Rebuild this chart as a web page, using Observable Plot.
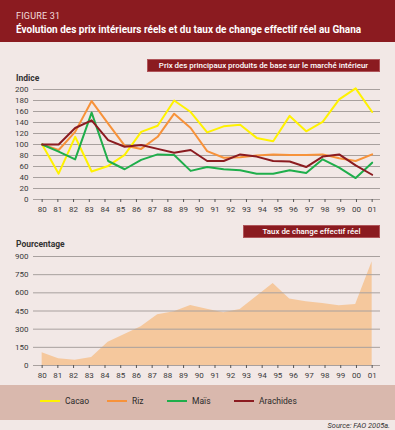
<!DOCTYPE html>
<html>
<head>
<meta charset="utf-8">
<script src="https://cdn.jsdelivr.net/npm/d3@7"></script>
<script src="https://cdn.jsdelivr.net/npm/@observablehq/plot@0.6"></script>
<style>
  html, body { margin: 0; padding: 0; }
  body { width: 395px; height: 430px; background: #F2E8E6; position: relative; overflow: hidden; font-family: Roboto, "Noto Sans", sans-serif; }
  .abs { position: absolute; }
  #header { left: 0; top: 0; width: 395px; height: 42px; background: #8B1B20; }
  #fig { left: 16px; top: 11px; color: #f3dede; font-size: 9px; letter-spacing: 0.2px; }
  #title { left: 16px; top: 24px; color: #fff; font-size: 10px; font-weight: 700; white-space: nowrap; }
  .box { background: #8B1B20; border: 1px solid #b0555a; color: #fff; font-size: 7.9px; font-weight: 500; text-align: center; line-height: 11px; box-sizing: border-box; white-space: nowrap; }
  .ylab { left: 16px; font-size: 8.5px; font-weight: 700; color: #333; }
  #legend { left: 0; top: 385px; width: 395px; height: 35px; background: #D9B8AD; }
  .leg { top: 396px; font-size: 8.5px; color: #2a2a2a; display: flex; align-items: center; }
  .leg span.sw { display: inline-block; width: 20px; height: 2px; margin-right: 5px; }
  #source { right: 5px; top: 421px; font-size: 7.4px; font-style: italic; color: #333; }
  svg { overflow: visible; }
</style>
</head>
<body>
<div id="header" class="abs"></div>
<div id="fig" class="abs">FIGURE 31</div>
<div id="title" class="abs">Évolution des prix intérieurs réels et du taux de change effectif réel au Ghana</div>

<div class="abs ylab" style="top:73px">Indice</div>
<div id="top" class="abs" style="left:0;top:80px"></div>
<div class="abs box" style="left:147px;top:59px;width:233px;height:13px">Prix des principaux produits de base sur le marché intérieur</div>

<div class="abs ylab" style="top:239px">Pourcentage</div>
<div id="bottom" class="abs" style="left:0;top:245px"></div>
<div class="abs box" style="left:243px;top:225px;width:137px;height:13px">Taux de change effectif réel</div>

<div id="legend" class="abs"></div>
<div id="legitems"></div>
<div id="source" class="abs">Source: FAO 2005a.</div>

<script>
// Tick labels of the year axis
const years = ["80","81","82","83","84","85","86","87","88","89","90","91","92","93","94","95","96","97","98","99","00","01"];
// Series values (index) (21 plotted points each)
const cacao     = [100, 47, 114, 51, 61, 81, 123, 134, 180, 159, 122, 133, 136, 112, 106, 152, 124, 141, 182, 202, 159];
const riz       = [100, 90, 123, 179, 138, 98, 92, 114, 156, 130, 88, 76, 77, 80, 82, 81, 81, 82, 75, 70, 82];
const mais      = [100, 87, 73, 158, 70, 55, 72, 82, 81, 52, 59, 55, 53, 47, 47, 53, 48, 73, 58, 39, 67];
const arachides = [100, 100, 130, 144, 108, 96, 99, 92, 85, 90, 70, 70, 82, 78, 70, 69, 59, 78, 82, 62, 45];
// Taux de change effectif réel (pourcentage)
const taux      = [105, 55, 44, 66, 193, 255, 320, 420, 443, 495, 465, 435, 462, 570, 677, 550, 526, 512, 493, 503, 856];

const seriesNames  = ["Cacao", "Riz", "Maïs", "Arachides"];
const seriesColors = ["#FFF200", "#F7923A", "#1FAE4B", "#8B1B20"];
const yTicksTop    = [0, 20, 40, 60, 80, 100, 120, 140, 160, 180, 200];
const yTicksBottom = [0, 150, 300, 450, 600, 750, 900];

// plotted points are spread evenly across the whole year axis
const pos = (i, n) => i * (years.length - 1) / (n - 1);
const allSeries = [cacao, riz, mais, arachides];
const rows = allSeries.flatMap((vals, s) => vals.map((v, i) => ({x: pos(i, vals.length), y: v, name: seriesNames[s]})));
const areaRows = taux.map((v, i) => ({x: pos(i, taux.length), y: v}));

const font = "Roboto, 'Noto Sans', sans-serif";
const gridColor = "#A8A09E";
const tickColor = "#3a3a3a";
const xDomain = [-0.55, 21.53];

const topPlot = Plot.plot({
  width: 395, height: 140,
  marginLeft: 33, marginRight: 15, marginTop: 9, marginBottom: 21,
  style: {background: "transparent", fontFamily: font, fontSize: "8px", color: tickColor},
  x: {domain: xDomain, axis: null},
  y: {domain: [0, 200], axis: null},
  color: {domain: seriesNames, range: seriesColors},
  marks: [
    Plot.ruleY(yTicksTop, {stroke: gridColor, strokeWidth: 1}),
    Plot.axisY({ticks: yTicksTop, tickSize: 0, tickPadding: 5, label: null}),
    Plot.axisX({ticks: d3.range(years.length), tickFormat: i => years[i], tickSize: 3, tickPadding: 4, stroke: "#555", label: null}),
    Plot.line(rows, {x: "x", y: "y", z: "name", stroke: "name", strokeWidth: 2})
  ]
});
document.getElementById("top").appendChild(topPlot);

const bottomPlot = Plot.plot({
  width: 395, height: 140,
  marginLeft: 33, marginRight: 15, marginTop: 11, marginBottom: 20,
  style: {background: "transparent", fontFamily: font, fontSize: "8px", color: tickColor},
  x: {domain: xDomain, axis: null},
  y: {domain: [0, 900], axis: null},
  marks: [
    Plot.areaY(areaRows, {x: "x", y: "y", fill: "#F5C89D"}),
    Plot.ruleY(yTicksBottom, {stroke: gridColor, strokeWidth: 1}),
    Plot.axisY({ticks: yTicksBottom, tickSize: 0, tickPadding: 5, label: null}),
    Plot.axisX({ticks: d3.range(years.length), tickFormat: i => years[i], tickSize: 3, tickPadding: 4, stroke: "#555", label: null})
  ]
});
document.getElementById("bottom").appendChild(bottomPlot);

// legend
const legLefts = [40, 107, 167, 234];
const legBox = document.getElementById("legitems");
seriesNames.forEach((n, i) => {
  const d = document.createElement("div");
  d.className = "abs leg";
  d.style.left = legLefts[i] + "px";
  d.innerHTML = `<span class="sw" style="background:${seriesColors[i]}"></span>${n}`;
  legBox.appendChild(d);
});
</script>
</body>
</html>
